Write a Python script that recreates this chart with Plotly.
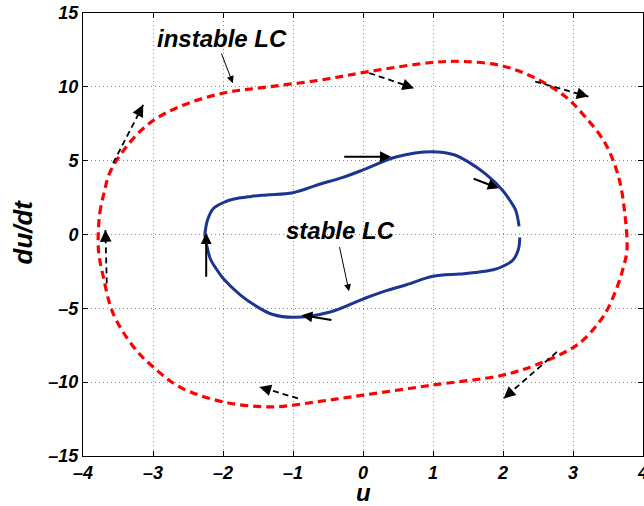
import plotly.graph_objects as go

# ---- data ----
stable_u = [-2.26, -2.22, -2.14, -2.0, -1.86, -1.6, -1.38, -1.0, -0.62, -0.3, 0.0, 0.47, 0.99, 1.3, 1.51,
            1.75, 1.99, 2.1, 2.18, 2.23]
stable_v = [0.0, 1.0, 1.75, 2.15, 2.39, 2.58, 2.68, 2.83, 3.4, 3.85, 4.37, 5.25, 5.61, 5.4, 4.9,
            4.1, 3.02, 2.3, 1.66, 0.55]
stable_u_low = [2.24, 2.22, 2.14, 2.0, 1.86, 1.6, 1.38, 1.0, 0.62, 0.3, 0.0, -0.47, -0.99, -1.3, -1.51,
                -1.75, -1.99, -2.1, -2.18, -2.24, -2.26]
stable_v_low = [-0.2, -1.0, -1.75, -2.15, -2.39, -2.58, -2.68, -2.83, -3.4, -3.85, -4.37, -5.25, -5.61,
                -5.4, -4.9, -4.1, -3.02, -2.3, -1.66, -0.55, 0.0]

instable_u = [-3.78, -3.76, -3.7, -3.62, -3.38, -3.05, -2.62, -2.0, -1.38, -0.62, 0.09, 0.99, 1.42, 1.99,
              2.46, 2.89, 3.17, 3.46, 3.65, 3.74, 3.77, 3.72, 3.65, 3.46, 3.17, 2.98, 2.46, 1.99, 0.99,
              0.0, -0.62, -1.29, -2.0, -2.62, -3.0, -3.28, -3.57, -3.71, -3.78]
instable_v = [-1.0, 1.44, 2.8, 4.15, 5.95, 7.54, 8.66, 9.57, 9.98, 10.45, 11.04, 11.65, 11.72, 11.42,
              10.59, 9.34, 7.99, 6.18, 3.92, 1.44, -1.1, -2.2, -3.31, -5.34, -7.04, -7.72, -8.85, -9.53,
              -10.2, -10.88, -11.3, -11.67, -11.33, -10.32, -8.96, -7.6, -5.34, -2.86, -1.0]

# solid arrows on the stable cycle: (u_start, v_start, u_end, v_end)
solid_arrows = [(-0.29, 5.27, 0.40, 5.27),
                (1.56, 3.81, 1.94, 3.13),
                (-2.24, -2.97, -2.24, 0.10),
                (-0.43, -5.80, -0.88, -5.46)]
# dashed arrows leaving the instable cycle
dashed_arrows = [(-3.57, 4.83, -3.14, 8.78),
                 (-3.66, -3.31, -3.68, 0.30),
                 (0.09, 10.93, 0.73, 9.91),
                 (2.46, 10.36, 3.22, 9.34),
                 (2.77, -7.95, 2.01, -11.10),
                 (-0.93, -11.10, -1.48, -10.32)]

labels = ["instable LC", "stable LC"]
label_pos = [(-2.02, 13.25), (-0.32, 0.3)]
label_arrows = [(-2.03, 12.35, -1.86, 10.25), (-0.34, -0.75, -0.20, -3.85)]

x_ticks = [-4, -3, -2, -1, 0, 1, 2, 3, 4]
y_ticks = [-15, -10, -5, 0, 5, 10, 15]

FONT = "Liberation Sans, Arial, sans-serif"
BOLDIT = dict(family=FONT, color="black", weight="bold", style="italic")

fig = go.Figure()
fig.add_trace(go.Scatter(x=instable_u, y=instable_v, mode="lines", line_shape="spline",
                         line=dict(color="#ff0000", width=3.2, dash="8px,5px"), hoverinfo="skip"))
fig.add_trace(go.Scatter(x=stable_u, y=stable_v, mode="lines", line_shape="spline",
                         line=dict(color="#1c3592", width=3), hoverinfo="skip"))
fig.add_trace(go.Scatter(x=stable_u_low, y=stable_v_low, mode="lines", line_shape="spline",
                         line=dict(color="#1c3592", width=3), hoverinfo="skip"))

annotations = []
for (u0, v0, u1, v1) in solid_arrows:
    annotations.append(dict(x=u1, y=v1, ax=u0, ay=v0, xref="x", yref="y", axref="x", ayref="y",
                            text="", showarrow=True, arrowhead=2, arrowsize=1.1, arrowwidth=2,
                            arrowcolor="black"))
for (u0, v0, u1, v1) in dashed_arrows:
    fig.add_trace(go.Scatter(x=[u0, u1], y=[v0, v1], mode="lines",
                             line=dict(color="black", width=1.8, dash="6px,4px"), hoverinfo="skip"))
    um = u1 - 0.12 * (u1 - u0)
    vm = v1 - 0.12 * (v1 - v0)
    annotations.append(dict(x=u1, y=v1, ax=um, ay=vm, xref="x", yref="y", axref="x", ayref="y",
                            text="", showarrow=True, arrowhead=2, arrowsize=1.3, arrowwidth=1.8,
                            arrowcolor="black"))
for (u0, v0, u1, v1) in label_arrows:
    annotations.append(dict(x=u1, y=v1, ax=u0, ay=v0, xref="x", yref="y", axref="x", ayref="y",
                            text="", showarrow=True, arrowhead=2, arrowsize=1.4, arrowwidth=1,
                            arrowcolor="black"))
for txt, (u, v) in zip(labels, label_pos):
    annotations.append(dict(x=u, y=v, xref="x", yref="y", text=txt, showarrow=False,
                            font=dict(size=24, **BOLDIT)))
# axis titles
annotations.append(dict(x=0.5, y=0.0, xref="paper", yref="paper", yshift=-36, text="u",
                        showarrow=False, yanchor="middle", font=dict(size=24, **BOLDIT)))
annotations.append(dict(x=0, y=0.5, xref="paper", yref="paper", xshift=-61, yshift=2, text="du/dt",
                        showarrow=False, textangle=-90, xanchor="center", font=dict(size=26, **BOLDIT)))

axis_common = dict(showline=True, linecolor="black", linewidth=1, mirror="ticks", ticks="inside",
                   ticklen=5, tickcolor="black", showgrid=True, gridcolor="#8a8a8a", griddash="1px,3px",
                   gridwidth=1, zeroline=False, automargin=False, ticklabeloverflow="allow",
                   tickfont=dict(size=18, **BOLDIT))

fig.update_layout(
    width=644, height=506, margin=dict(l=83, r=1, t=13, b=50),
    plot_bgcolor="white", paper_bgcolor="white", showlegend=False,
    annotations=annotations,
    xaxis=dict(range=[-4, 4], tickvals=x_ticks, ticktext=[str(t).replace("-", "\u2013") for t in x_ticks],
               **axis_common),
    yaxis=dict(range=[-15, 15], tickvals=y_ticks, ticktext=[str(t).replace("-", "\u2013") for t in y_ticks],
               **axis_common),
)
fig.write_html("out.html", config={"displayModeBar": False},
               post_script="document.body.style.margin='0';document.body.style.overflow='hidden';")
